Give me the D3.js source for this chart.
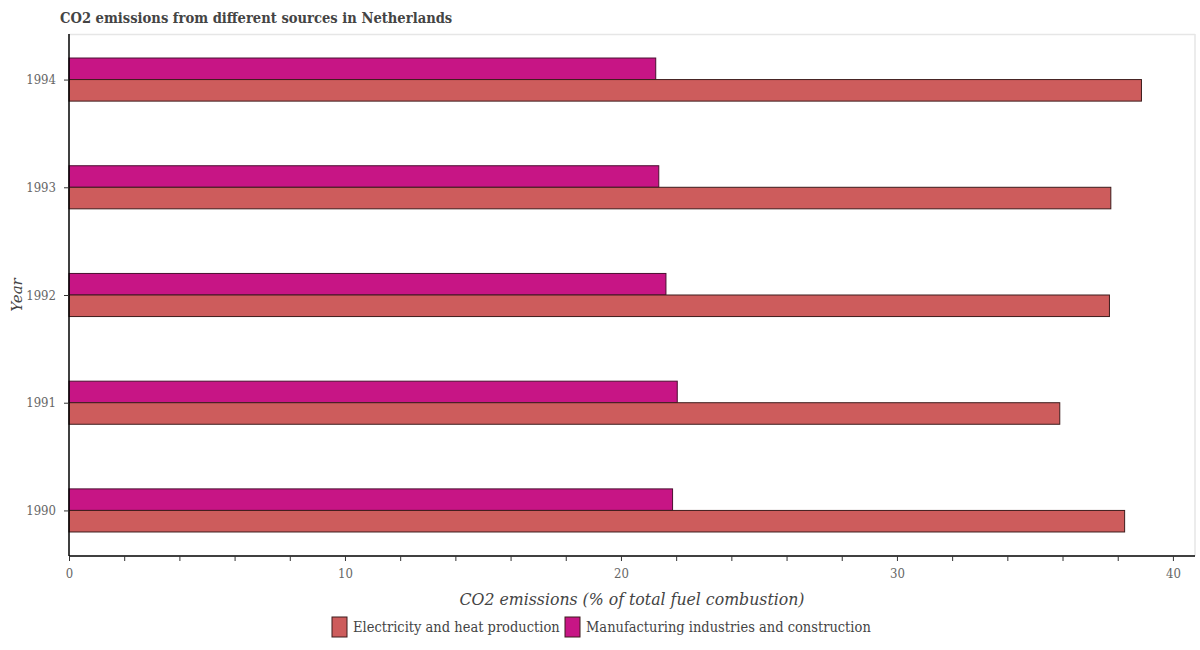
<!DOCTYPE html>
<html>
<head>
<meta charset="utf-8">
<script src="https://cdn.jsdelivr.net/npm/d3@7"></script>
<style>
  html, body { margin: 0; padding: 0; background: #fff; }
  svg { display: block; }
  .cond { font-family: "DejaVu Serif", serif; font-stretch: condensed; }
</style>
</head>
<body>
<svg id="chart" width="1200" height="650"></svg>
<script>
const years = ["1990", "1991", "1992", "1993", "1994"];
const electricity = [38.25, 35.9, 37.7, 37.75, 38.86];
const manufacturing = [21.87, 22.04, 21.63, 21.37, 21.26];
const seriesNames = ["Electricity and heat production", "Manufacturing industries and construction"];
const seriesColors = ["#cd5c5c", "#c71585"];
const xTicks = [0, 10, 20, 30, 40];

const svg = d3.select("#chart");
const mLeft = 69, mRight = 1195, mTop = 34, mBottom = 556;

const x = d3.scaleLinear().domain([0, 40.8]).range([mLeft, mRight]);
const y = d3.scalePoint().domain(years).range([mBottom, mTop]).padding(0.423);
const barH = y.step() * 0.2;

// Title
svg.append("text")
  .attr("class", "cond")
  .attr("x", 60).attr("y", 23)
  .attr("font-weight", "bold")
  .attr("font-size", 14.6)
  .attr("fill", "#444")
  .text("CO2 emissions from different sources in Netherlands");

// Plot border (light)
svg.append("line").attr("x1", mLeft).attr("x2", mRight).attr("y1", mTop + 0.5).attr("y2", mTop + 0.5)
  .attr("stroke", "#e6e6e6").attr("stroke-width", 1.5);
svg.append("line").attr("x1", mRight).attr("x2", mRight).attr("y1", mTop).attr("y2", mBottom)
  .attr("stroke", "#e6e6e6").attr("stroke-width", 1.5);

// Bars
const data = years.map((yr, i) => ({ year: yr, e: electricity[i], m: manufacturing[i] }));
const g = svg.append("g");
g.selectAll("rect.m").data(data).join("rect")
  .attr("class", "m")
  .attr("x", x(0))
  .attr("y", d => y(d.year) - barH)
  .attr("width", d => x(d.m) - x(0))
  .attr("height", barH)
  .attr("fill", seriesColors[1])
  .attr("stroke", "#4a1030").attr("stroke-width", 1);
g.selectAll("rect.e").data(data).join("rect")
  .attr("class", "e")
  .attr("x", x(0))
  .attr("y", d => y(d.year))
  .attr("width", d => x(d.e) - x(0))
  .attr("height", barH)
  .attr("fill", seriesColors[0])
  .attr("stroke", "#3d1c1c").attr("stroke-width", 1);

// X axis
const xAxisG = svg.append("g").attr("transform", `translate(0,${mBottom})`)
  .call(d3.axisBottom(x).tickValues(d3.range(0, 41, 2)).tickSize(5)
    .tickFormat(d => xTicks.includes(d) ? d : ""));
xAxisG.select(".domain").attr("stroke", "#000").attr("stroke-width", 1.5)
  .attr("d", `M${mLeft},0H${mRight}`);
xAxisG.selectAll(".tick line").attr("stroke", "#333");
xAxisG.selectAll(".tick text")
  .attr("class", "cond")
  .attr("font-size", 13).attr("fill", "#666").attr("dy", "1.1em");

// Y axis
const yAxisG = svg.append("g").attr("transform", `translate(${mLeft},0)`)
  .call(d3.axisLeft(y).tickSize(5).tickPadding(8));
yAxisG.select(".domain").attr("stroke", "#000").attr("stroke-width", 1.5)
  .attr("d", `M0,${mTop}V${mBottom}`);
yAxisG.selectAll(".tick line").attr("stroke", "#333");
yAxisG.selectAll(".tick text")
  .attr("class", "cond")
  .attr("font-size", 13).attr("fill", "#666");

// Axis titles
svg.append("text")
  .attr("class", "cond")
  .attr("x", (mLeft + mRight) / 2).attr("y", 605)
  .attr("text-anchor", "middle")
  .attr("font-style", "italic")
  .attr("font-size", 17.5)
  .attr("fill", "#444")
  .text("CO2 emissions (% of total fuel combustion)");

svg.append("text")
  .attr("transform", "translate(22,295) rotate(-90)")
  .attr("text-anchor", "middle")
  .attr("font-family", "DejaVu Serif, serif")
  .attr("font-style", "italic")
  .attr("font-size", 15)
  .attr("fill", "#444")
  .text("Year");

// Legend
const legend = svg.append("g");
const legendX = [332, 565];
seriesNames.forEach((name, i) => {
  const lx = legendX[i];
  legend.append("rect")
    .attr("x", lx).attr("y", 617).attr("width", 15).attr("height", 20)
    .attr("fill", seriesColors[i]).attr("stroke", "#3d1c1c").attr("stroke-width", 1);
  legend.append("text")
    .attr("class", "cond")
    .attr("x", lx + 21).attr("y", 632)
    .attr("font-size", 14.5).attr("fill", "#444")
    .text(name);
});
</script>
</body>
</html>
